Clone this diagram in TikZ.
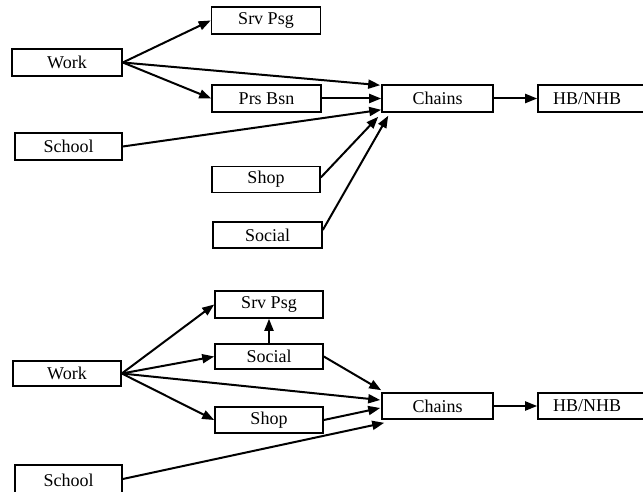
\documentclass[tikz,border=0pt]{standalone}
\usepackage{fontspec}
\setmainfont{Liberation Serif}
\usetikzlibrary{arrows.meta,calc}
\begin{document}
\begin{tikzpicture}[x=1pt,y=-1pt,
  box/.style={draw,line width=1.6pt,rectangle,inner sep=0pt,font=\fontsize{18}{20}\selectfont},
  arr/.style={line width=2pt,-{Triangle[length=12pt,width=9pt]}}]
\useasboundingbox (0,0) rectangle (643,492);
% top diagram
\node[box,minimum width=110pt,minimum height=27pt] (work1) at (67,62.5) {Work};
\node[box,minimum width=109pt,minimum height=27pt] (srv1) at (266,20.5) {Srv Psg};
\node[box,minimum width=109pt,minimum height=27pt] (prs1) at (266.5,98.5) {Prs Bsn};
\node[box,minimum width=107pt,minimum height=27pt] (school1) at (68.5,146.5) {School};
\node[box,minimum width=108pt,minimum height=26pt] (shop1) at (266,179.5) {Shop};
\node[box,minimum width=109pt,minimum height=26pt] (social1) at (267.5,235) {Social};
\node[box,minimum width=111pt,minimum height=27pt] (chains1) at (437.5,98.5) {Chains};
\node[box,minimum width=108pt,minimum height=27pt,text width=100pt,align=left] (hb1) at (592,98.5) {\hspace*{11pt}HB/NHB};
\coordinate (c1a) at ($(chains1.north west)+(-1,1)$);
\coordinate (c1c) at ($(chains1.south west)+(0,-3)$);
\coordinate (c1d) at ($(chains1.south west)+(-3,4)$);
\coordinate (c1e) at ($(chains1.south west)+(7,3)$);
\draw[arr] (work1.east) -- (srv1.west);
\draw[arr] (work1.east) -- (prs1.west);
\draw[arr] (work1.east) -- (c1a);
\draw[arr] (prs1.east) -- (chains1.west);
\draw[arr] (school1.east) -- (c1c);
\draw[arr] ($(shop1.east)+(0,-2)$) -- (c1d);
\draw[arr] ($(social1.east)+(0,-5)$) -- (c1e);
\draw[arr] (chains1.east) -- (hb1.west);
% bottom diagram
\node[box,minimum width=108pt,minimum height=27pt] (srv2) at (269,304.5) {Srv Psg};
\node[box,minimum width=108pt,minimum height=25pt] (social2) at (269,356.5) {Social};
\node[box,minimum width=108pt,minimum height=25pt] (work2) at (67,373.5) {Work};
\node[box,minimum width=108pt,minimum height=26pt] (shop2) at (269,420) {Shop};
\node[box,minimum width=107pt,minimum height=30pt,text depth=0pt] (school2) at (68.5,480) {School};
\node[box,minimum width=111pt,minimum height=26pt] (chains2) at (437.5,406) {Chains};
\node[box,minimum width=108pt,minimum height=26pt,text width=100pt,align=left] (hb2) at (592,406) {\hspace*{11pt}HB/NHB};
\coordinate (c2a) at ($(chains2.north west)+(0,-2)$);
\coordinate (c2b) at ($(chains2.west)+(-1,-6)$);
\coordinate (c2c) at ($(chains2.west)+(-1,2)$);
\coordinate (c2d) at ($(chains2.south west)+(3,3)$);
\draw[arr] (work2.east) -- (srv2.west);
\draw[arr] (work2.east) -- (social2.west);
\draw[arr] (work2.east) -- (c2b);
\draw[arr] (work2.east) -- (shop2.west);
\draw[arr] (social2.north) -- (srv2.south);
\draw[arr] (social2.east) -- (c2a);
\draw[arr] (shop2.east) -- (c2c);
\draw[arr] ($(school2.east)+(0,-1)$) -- (c2d);
\draw[arr] (chains2.east) -- (hb2.west);
\end{tikzpicture}
\end{document}
